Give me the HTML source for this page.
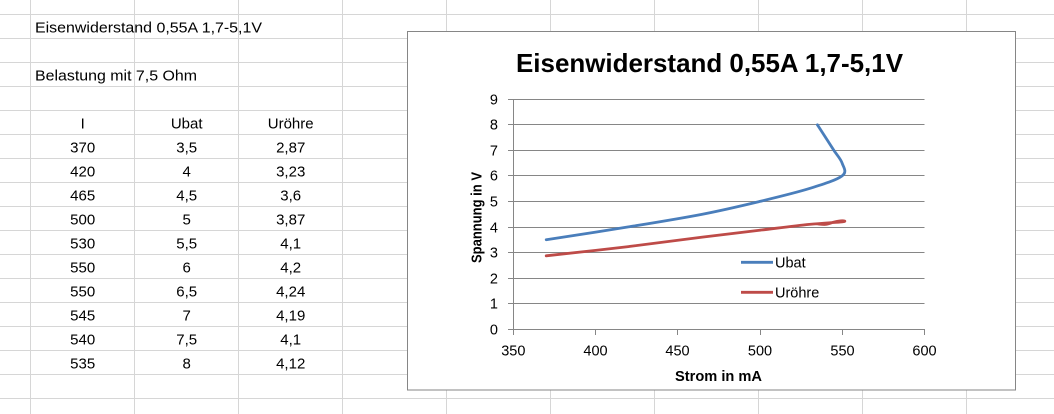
<!DOCTYPE html>
<html><head><meta charset="utf-8"><style>
html,body{margin:0;padding:0;background:#fff;}
svg{display:block;}
text{font-family:"Liberation Sans",sans-serif;fill:#000;}
</style></head><body>
<svg width="1054" height="414" viewBox="0 0 1054 414" xmlns="http://www.w3.org/2000/svg">
<rect x="0" y="0" width="1054" height="414" fill="#fff"/>
<!-- spreadsheet grid -->
<g stroke="#d6d6d6" stroke-width="1">
<line x1="0" y1="14.5" x2="1054" y2="14.5"/>
<line x1="0" y1="38.5" x2="1054" y2="38.5"/>
<line x1="0" y1="62.5" x2="1054" y2="62.5"/>
<line x1="0" y1="86.5" x2="1054" y2="86.5"/>
<line x1="0" y1="110.5" x2="1054" y2="110.5"/>
<line x1="0" y1="134.5" x2="1054" y2="134.5"/>
<line x1="0" y1="158.5" x2="1054" y2="158.5"/>
<line x1="0" y1="182.5" x2="1054" y2="182.5"/>
<line x1="0" y1="206.5" x2="1054" y2="206.5"/>
<line x1="0" y1="230.5" x2="1054" y2="230.5"/>
<line x1="0" y1="254.5" x2="1054" y2="254.5"/>
<line x1="0" y1="278.5" x2="1054" y2="278.5"/>
<line x1="0" y1="302.5" x2="1054" y2="302.5"/>
<line x1="0" y1="326.5" x2="1054" y2="326.5"/>
<line x1="0" y1="350.5" x2="1054" y2="350.5"/>
<line x1="0" y1="374.5" x2="1054" y2="374.5"/>
<line x1="0" y1="398.5" x2="1054" y2="398.5"/>
<line x1="30.5" y1="0" x2="30.5" y2="414"/>
<line x1="134.5" y1="0" x2="134.5" y2="414"/>
<line x1="238.5" y1="0" x2="238.5" y2="414"/>
<line x1="342.5" y1="0" x2="342.5" y2="414"/>
<line x1="446.5" y1="0" x2="446.5" y2="414"/>
<line x1="550.5" y1="0" x2="550.5" y2="414"/>
<line x1="654.5" y1="0" x2="654.5" y2="414"/>
<line x1="758.5" y1="0" x2="758.5" y2="414"/>
<line x1="862.5" y1="0" x2="862.5" y2="414"/>
<line x1="966.5" y1="0" x2="966.5" y2="414"/>
</g>
<!-- spreadsheet text -->
<g font-size="15">
<text x="35" y="32.5" textLength="227" lengthAdjust="spacingAndGlyphs">Eisenwiderstand 0,55A 1,7-5,1V</text>
<text x="35" y="80.5" textLength="162" lengthAdjust="spacingAndGlyphs">Belastung mit 7,5 Ohm</text>
</g>
<g font-size="15" text-anchor="middle">
<text x="82.7" y="128.7">I</text><text x="186.7" y="128.7">Ubat</text><text x="290.7" y="128.7">Uröhre</text>
<text x="82.7" y="152.7">370</text><text x="186.7" y="152.7">3,5</text><text x="290.7" y="152.7">2,87</text>
<text x="82.7" y="176.7">420</text><text x="186.7" y="176.7">4</text><text x="290.7" y="176.7">3,23</text>
<text x="82.7" y="200.7">465</text><text x="186.7" y="200.7">4,5</text><text x="290.7" y="200.7">3,6</text>
<text x="82.7" y="224.7">500</text><text x="186.7" y="224.7">5</text><text x="290.7" y="224.7">3,87</text>
<text x="82.7" y="248.7">530</text><text x="186.7" y="248.7">5,5</text><text x="290.7" y="248.7">4,1</text>
<text x="82.7" y="272.7">550</text><text x="186.7" y="272.7">6</text><text x="290.7" y="272.7">4,2</text>
<text x="82.7" y="296.7">550</text><text x="186.7" y="296.7">6,5</text><text x="290.7" y="296.7">4,24</text>
<text x="82.7" y="320.7">545</text><text x="186.7" y="320.7">7</text><text x="290.7" y="320.7">4,19</text>
<text x="82.7" y="344.7">540</text><text x="186.7" y="344.7">7,5</text><text x="290.7" y="344.7">4,1</text>
<text x="82.7" y="368.7">535</text><text x="186.7" y="368.7">8</text><text x="290.7" y="368.7">4,12</text>
</g>
<!-- chart -->
<rect x="407.5" y="31.5" width="608" height="358.5" fill="#fff" stroke="#868686" stroke-width="1"/>
<text x="709.5" y="72" font-size="26" font-weight="bold" text-anchor="middle" textLength="387" lengthAdjust="spacingAndGlyphs">Eisenwiderstand 0,55A 1,7-5,1V</text>
<!-- gridlines -->
<g stroke="#868686" stroke-width="1">
<line x1="508" y1="99.5" x2="924.5" y2="99.5"/>
<line x1="508" y1="124.5" x2="924.5" y2="124.5"/>
<line x1="508" y1="150.5" x2="924.5" y2="150.5"/>
<line x1="508" y1="175.5" x2="924.5" y2="175.5"/>
<line x1="508" y1="201.5" x2="924.5" y2="201.5"/>
<line x1="508" y1="227.5" x2="924.5" y2="227.5"/>
<line x1="508" y1="252.5" x2="924.5" y2="252.5"/>
<line x1="508" y1="278.5" x2="924.5" y2="278.5"/>
<line x1="508" y1="303.5" x2="924.5" y2="303.5"/>
<line x1="508" y1="329.5" x2="924.5" y2="329.5"/>
<line x1="513.5" y1="99" x2="513.5" y2="335"/>
<line x1="595.5" y1="329" x2="595.5" y2="335"/>
<line x1="677.5" y1="329" x2="677.5" y2="335"/>
<line x1="760.5" y1="329" x2="760.5" y2="335"/>
<line x1="842.5" y1="329" x2="842.5" y2="335"/>
<line x1="924.5" y1="329" x2="924.5" y2="335"/>
</g>
<!-- y labels -->
<g font-size="14.5" text-anchor="end">
<text x="498" y="104.5">9</text>
<text x="498" y="129.5">8</text>
<text x="498" y="155.5">7</text>
<text x="498" y="180.5">6</text>
<text x="498" y="206.5">5</text>
<text x="498" y="232.5">4</text>
<text x="498" y="257.5">3</text>
<text x="498" y="283.5">2</text>
<text x="498" y="308.5">1</text>
<text x="498" y="334.5">0</text>
</g>
<!-- x labels -->
<g font-size="14.5" text-anchor="middle">
<text x="513.3" y="355.5">350</text>
<text x="595.5" y="355.5">400</text>
<text x="677.5" y="355.5">450</text>
<text x="760" y="355.5">500</text>
<text x="842.5" y="355.5">550</text>
<text x="924.5" y="355.5">600</text>
</g>
<text x="718.5" y="381" font-size="14.5" font-weight="bold" text-anchor="middle" textLength="87" lengthAdjust="spacingAndGlyphs">Strom in mA</text>
<text transform="translate(481.5,217.5) rotate(-90)" x="0" y="0" font-size="14.5" font-weight="bold" text-anchor="middle" textLength="91" lengthAdjust="spacingAndGlyphs">Spannung in V</text>
<!-- series -->
<path fill="none" stroke="#4A7EBB" stroke-width="2.8" stroke-linecap="round" stroke-linejoin="round"
d="M546.2,239.7 C559.9,237.57 602.37,231.15 628.4,226.9 C654.43,222.65 680.48,218.45 702.4,214.2 C724.32,209.95 742.1,205.67 759.9,201.4 C777.7,197.13 795.5,192.85 809.2,188.6 C822.9,184.35 836.62,180.15 842.1,175.9 C847.58,171.65 843.47,167.35 842.1,163.1 C840.73,158.85 836.63,154.65 833.9,150.4 C831.17,146.15 828.45,141.87 825.7,137.6 C822.95,133.33 818.78,126.93 817.4,124.8"/>
<path fill="none" stroke="#BE4B48" stroke-width="2.8" stroke-linecap="round" stroke-linejoin="round"
d="M546.2,255.8 C559.9,254.27 602.37,249.72 628.4,246.6 C654.43,243.48 680.48,239.83 702.4,237.1 C724.32,234.37 742.1,232.32 759.9,230.2 C777.7,228.08 795.5,225.8 809.2,224.4 C822.9,223.0 836.62,222.4 842.1,221.8 C847.58,221.2 843.47,220.75 842.1,220.8 C840.73,220.85 836.63,221.5 833.9,222.1 C831.17,222.7 828.45,224.1 825.7,224.4 C822.95,224.7 818.78,223.98 817.4,223.9"/>
<!-- legend -->
<line x1="741" y1="262.3" x2="773" y2="262.3" stroke="#4A7EBB" stroke-width="2.8"/>
<text x="775" y="267.5" font-size="14.5">Ubat</text>
<line x1="741" y1="292.3" x2="773" y2="292.3" stroke="#BE4B48" stroke-width="2.8"/>
<text x="775" y="297.5" font-size="14.5">Uröhre</text>
</svg>
</body></html>
